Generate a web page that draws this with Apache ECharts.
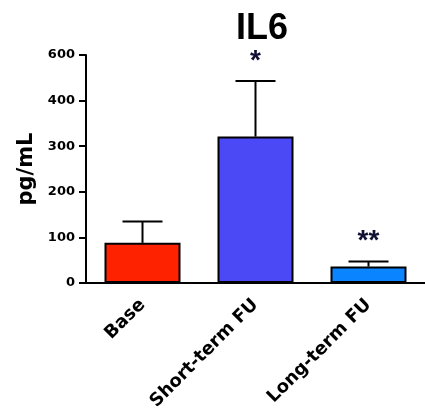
<!DOCTYPE html>
<html>
<head>
<meta charset="utf-8">
<script src="https://cdn.jsdelivr.net/npm/echarts@6/dist/echarts.min.js"></script>
<style>
  html, body { margin: 0; padding: 0; background: #ffffff; }
  #chart { width: 425px; height: 418px; }
</style>
</head>
<body>
<div id="chart"></div>
<script>
// IL6 concentration by time point (mean with upper SD whisker)
const categories = ['Base', 'Short-term FU', 'Long-term FU'];
const means = [88, 321, 36];
const errorTops = [135, 443, 47];
const significance = ['', '*', '**'];
const barColors = ['#ff2200', '#4b48f5', '#0a84ff'];

// y axis ticks and the labels printed beside them
const tickValues = [0, 100, 200, 300, 400, 500];
const tickLabels = ['0', '100', '200', '300', '400', '600'];

const chart = echarts.init(document.getElementById('chart'), null, { renderer: 'canvas' });

const option = {
  animation: false,
  backgroundColor: '#ffffff',
  title: {
    text: 'IL6',
    left: 257,
    top: 6,
    textAlign: 'center',
    textStyle: { fontFamily: 'Liberation Sans', fontWeight: 'bold', fontSize: 36, color: '#000' }
  },
  grid: { left: 86, right: 0, top: 55, bottom: 135, containLabel: false },
  xAxis: {
    type: 'category',
    data: categories,
    axisLine: { lineStyle: { color: '#000', width: 2 } },
    axisTick: { alignWithLabel: true, length: 7, lineStyle: { color: '#000', width: 2 } },
    axisLabel: {
      rotate: 45,
      margin: 19,
      interval: 0,
      fontFamily: 'DejaVu Sans',
      fontWeight: 'bold',
      fontSize: 18,
      color: '#000'
    }
  },
  yAxis: {
    type: 'value',
    min: 0,
    max: 500,
    interval: 100,
    name: 'pg/mL',
    nameLocation: 'middle',
    nameRotate: 90,
    nameGap: 46,
    nameTextStyle: { fontFamily: 'DejaVu Sans', fontWeight: 'bold', fontSize: 21, color: '#000' },
    splitLine: { show: false },
    axisLine: { show: true, lineStyle: { color: '#000', width: 2 } },
    axisTick: { show: true, length: 7, lineStyle: { color: '#000', width: 2 } },
    axisLabel: {
      margin: 11,
      fontFamily: 'DejaVu Sans',
      fontWeight: 'bold',
      fontSize: 13,
      color: '#000',
      formatter: function (v) {
        const i = tickValues.indexOf(v);
        return i >= 0 ? tickLabels[i] : '';
      }
    }
  },
  series: [
    {
      type: 'bar',
      data: means.map((v, i) => ({ value: v, itemStyle: { color: barColors[i] } })),
      barWidth: 76,
      itemStyle: { borderColor: '#000', borderWidth: 2 },
      z: 2
    },
    {
      type: 'custom',
      data: categories.map((c, i) => [i, means[i], errorTops[i]]),
      z: 3,
      renderItem: function (params, api) {
        const idx = api.value(0);
        const base = api.coord([idx, api.value(1)]);
        const top = api.coord([idx, api.value(2)]);
        const half = 20;
        const children = [
          { type: 'line', shape: { x1: base[0], y1: base[1], x2: top[0], y2: top[1] },
            style: { stroke: '#000', lineWidth: 2 } },
          { type: 'line', shape: { x1: top[0] - half, y1: top[1], x2: top[0] + half, y2: top[1] },
            style: { stroke: '#000', lineWidth: 2 } }
        ];
        const mark = significance[idx];
        if (mark) {
          children.push({
            type: 'text',
            style: {
              text: mark,
              x: top[0],
              y: top[1] - 20,
              align: 'center',
              verticalAlign: 'middle',
              fontFamily: 'Liberation Sans',
              fontWeight: 'bold',
              fontSize: 28,
              fill: '#111133'
            }
          });
        }
        return { type: 'group', children: children };
      }
    }
  ]
};

chart.setOption(option);
</script>
</body>
</html>
